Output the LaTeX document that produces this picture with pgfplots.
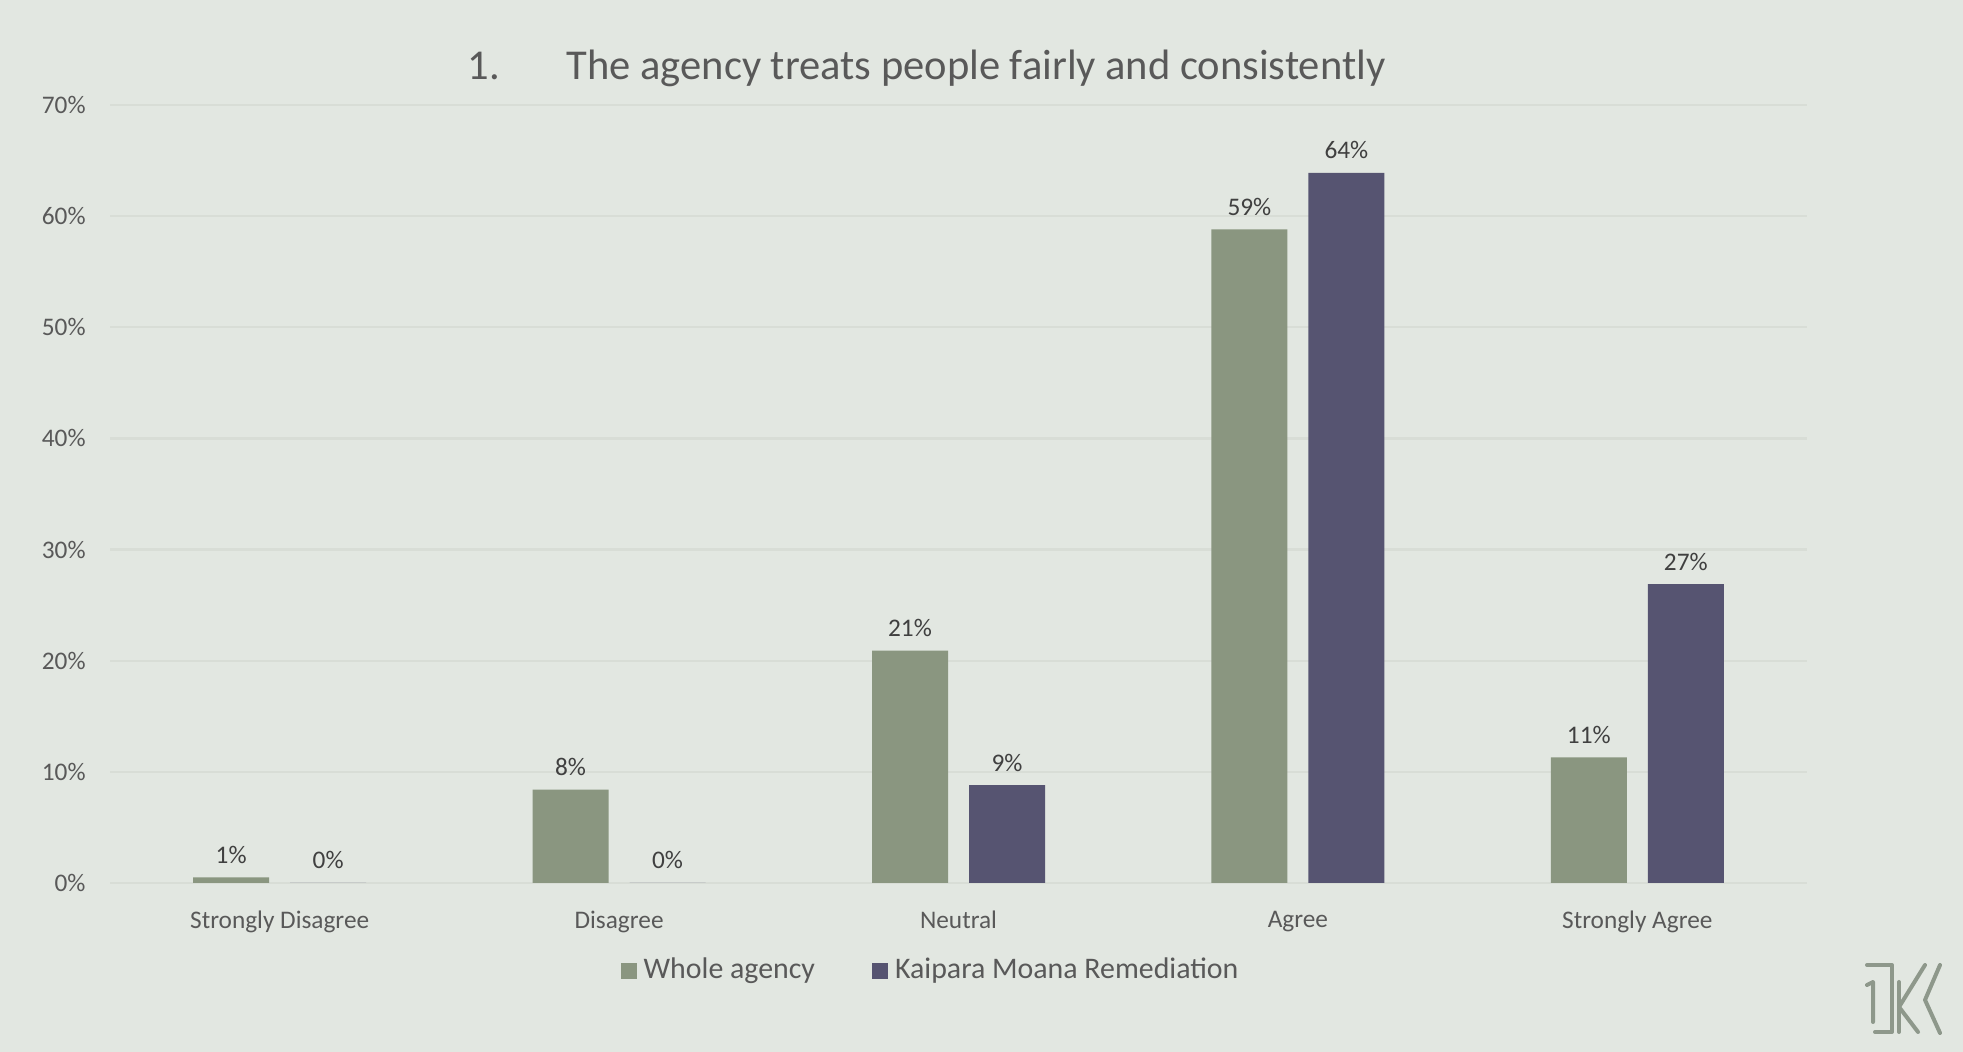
\documentclass[border=0pt]{standalone}
\usepackage{pgfplots}
\pgfplotsset{compat=1.18}
\usepackage{pgfplotstable}
\usepackage{fontspec}
\setmainfont{Carlito}
\definecolor{bgc}{HTML}{E2E7E1}
\definecolor{gridc}{HTML}{D8DDD6}
\definecolor{wholec}{HTML}{8A9680}
\definecolor{kmrc}{HTML}{565471}
\definecolor{tickc}{HTML}{595959}
\definecolor{labc}{HTML}{404040}
\definecolor{logoc}{HTML}{8E988B}

\pgfplotstableread{
x val lab
0 0.5 1\%
1 8.4 8\%
2 20.9 21\%
3 58.8 59\%
4 11.3 11\%
}\whole
\pgfplotstableread{
x val lab
0 0 0\%
1 0 0\%
2 8.8 9\%
3 63.9 64\%
4 26.9 27\%
}\kmr

\begin{document}
\begin{tikzpicture}
\fill[bgc] (0,0) rectangle (19.63,10.52);
\begin{axis}[
  at={(1.10cm,1.69cm)}, anchor=south west,
  width=16.97cm, height=7.78cm, scale only axis,
  xmin=-0.5, xmax=4.5, ymin=0, ymax=70,
  axis line style={draw=none},
  xtick={0,1,2,3,4},
  xticklabels={Strongly Disagree,Disagree,Neutral,Agree,Strongly Agree},
  ytick={0,10,20,30,40,50,60,70},
  yticklabels={0\%,10\%,20\%,30\%,40\%,50\%,60\%,70\%},
  major tick length=0pt,
  ymajorgrids, grid style={gridc, line width=0.22mm},
  tick label style={font=\fontsize{7.2}{8}\selectfont, text=tickc},
  yticklabel style={xshift=-1.2mm},
  xticklabel style={yshift=-1.6mm},
  ybar, bar width=7.6mm,
  nodes near coords,
  point meta=explicit symbolic,
  every node near coord/.append style={font=\fontsize{7.2}{8}\selectfont, text=labc, anchor=base, yshift=1.4mm, inner sep=0pt},
  legend columns=2,
  legend style={draw=none, fill=none, at={(0.485,-0.113)}, anchor=center,
    font=\fontsize{8.5}{10}\selectfont, text=tickc,
    /tikz/every even column/.append style={column sep=5mm}},
  legend image code/.code={\fill[#1] (0mm,-0.8mm) rectangle (1.6mm,0.8mm);},
  clip=false,
]
\addplot[fill=wholec, draw=none, bar shift=-4.85mm] table[x=x, y=val, meta=lab] {\whole};
\addplot[fill=kmrc, draw=none, bar shift=4.85mm] table[x=x, y=val, meta=lab] {\kmr};
\legend{Whole agency, Kaipara Moana Remediation}
\end{axis}
\node[anchor=base west, font=\fontsize{12.1}{14}\selectfont, text=tickc, inner sep=0pt] at (4.67,9.72) {1.};
\node[anchor=base west, font=\fontsize{12.1}{14}\selectfont, text=tickc, inner sep=0pt] at (5.66,9.72) {The agency treats people fairly and consistently};
% logo
\begin{scope}[logoc, line width=0.4mm, line cap=round, line join=round]
\draw (18.67,0.87) -- (18.92,0.87) -- (18.92,0.20) -- (18.75,0.20);
\draw (18.67,0.67) -- (18.73,0.70) -- (18.73,0.30);
\draw (18.99,0.70) -- (18.99,0.20);
\draw (19.25,0.87) -- (18.99,0.45);
\draw (18.99,0.45) -- (19.18,0.20);
\draw (19.40,0.87) -- (19.25,0.52) -- (19.40,0.19);
\end{scope}
\end{tikzpicture}
\end{document}
